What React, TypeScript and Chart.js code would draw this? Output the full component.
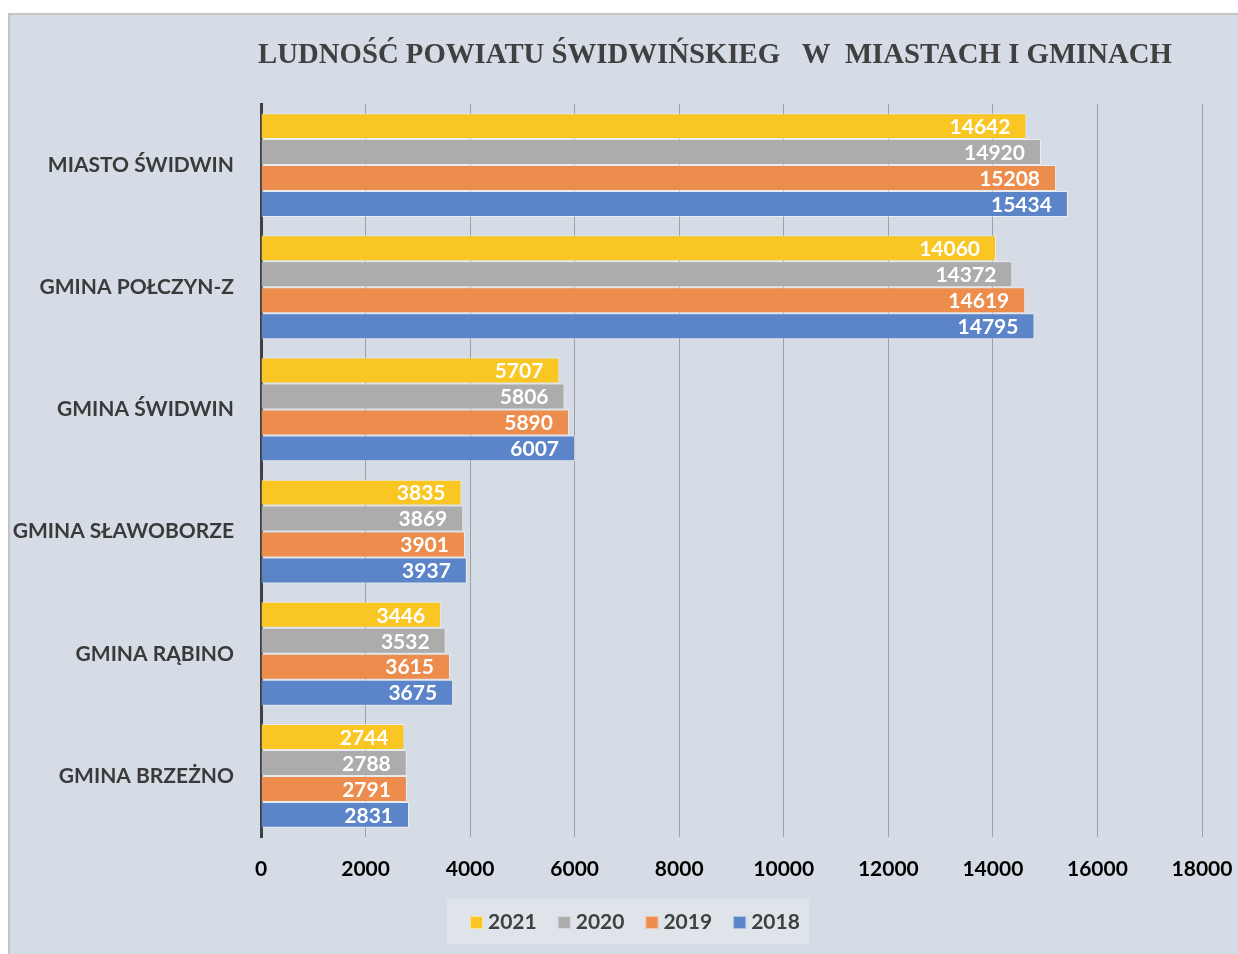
import React, { useEffect, useRef } from 'react';
import { Chart, registerables } from 'chart.js';
Chart.register(...registerables);

const categories = ['MIASTO ŚWIDWIN', 'GMINA POŁCZYN-Z', 'GMINA ŚWIDWIN', 'GMINA SŁAWOBORZE', 'GMINA RĄBINO', 'GMINA BRZEŻNO'];
const years = ['2021', '2020', '2019', '2018'];
const values2021 = [14642, 14060, 5707, 3835, 3446, 2744];
const values2020 = [14920, 14372, 5806, 3869, 3532, 2788];
const values2019 = [15208, 14619, 5890, 3901, 3615, 2791];
const values2018 = [15434, 14795, 6007, 3937, 3675, 2831];
const seriesValues = [values2021, values2020, values2019, values2018];
const colors = ['#f9c623', '#acacac', '#ec8c4d', '#5b84c9'];
const titleText = 'LUDNOŚĆ POWIATU ŚWIDWIŃSKIEG   W  MIASTACH I GMINACH';

const SANS = 'Lato, "Open Sans", sans-serif';

const titlePlugin = {
  id: 'customTitle',
  afterDraw(chart: any) {
    const ctx = chart.ctx;
    ctx.save();
    ctx.font = 'bold 30px "Liberation Serif"';
    ctx.fillStyle = '#404040';
    ctx.textAlign = 'left';
    ctx.textBaseline = 'alphabetic';
    const w = ctx.measureText(titleText).width;
    const sx = 914 / w;
    ctx.translate(258, 63);
    ctx.scale(sx, 1);
    ctx.fillText(titleText, 0, 0);
    ctx.restore();
  },
};

const valueLabelPlugin = {
  id: 'valueLabels',
  afterDatasetsDraw(chart: any) {
    const ctx = chart.ctx;
    ctx.save();
    ctx.font = `bold 21px ${SANS}`;
    ctx.fillStyle = '#ffffff';
    ctx.textAlign = 'right';
    ctx.textBaseline = 'middle';
    chart.data.datasets.forEach((ds: any, i: number) => {
      const meta = chart.getDatasetMeta(i);
      meta.data.forEach((el: any, j: number) => {
        ctx.fillText(String(ds.data[j]), el.x - 16, el.y + 1);
      });
    });
    ctx.restore();
  },
};

const legendPlugin = {
  id: 'customLegend',
  afterDraw(chart: any) {
    const ctx = chart.ctx;
    ctx.save();
    ctx.fillStyle = '#dfe3ea';
    ctx.fillRect(447, 899, 362, 45);
    ctx.font = `bold 21px ${SANS}`;
    ctx.textBaseline = 'middle';
    ctx.textAlign = 'left';
    let x = 470;
    chart.data.datasets.forEach((ds: any) => {
      ctx.fillStyle = ds.backgroundColor;
      ctx.fillRect(x, 916, 13, 13);
      ctx.strokeStyle = 'rgba(255,255,255,0.5)';
      ctx.lineWidth = 1;
      ctx.strokeRect(x + 0.5, 916.5, 12, 12);
      ctx.fillStyle = '#404040';
      ctx.fillText(ds.label, x + 18, 922);
      const tw = ctx.measureText(ds.label).width;
      x = x + 18 + tw + 21;
    });
    ctx.restore();
  },
};

export default function App() {
  const ref = useRef<HTMLCanvasElement | null>(null);
  useEffect(() => {
    if (!ref.current) return;
    const chart = new Chart(ref.current, {
      type: 'bar',
      data: {
        labels: categories,
        datasets: years.map((y, i) => ({
          label: y,
          data: seriesValues[i],
          backgroundColor: colors[i],
          borderColor: 'rgba(255,255,255,0.45)',
          borderWidth: 1,
          categoryPercentage: 0.85,
          barPercentage: 1.0,
        })),
      },
      options: {
        indexAxis: 'y',
        responsive: false,
        animation: false,
        layout: { padding: { left: 0, right: 36, top: 104, bottom: 0 } },
        plugins: {
          legend: { display: false },
          title: { display: false },
          tooltip: { enabled: false },
        },
        scales: {
          x: {
            min: 0,
            max: 18000,
            ticks: {
              stepSize: 2000,
              color: '#000000',
              font: { family: SANS, size: 21, weight: 'bold' },
              padding: 20,
              maxRotation: 0,
              callback: (v: any) => String(v),
            },
            grid: { color: '#a0a0a0', lineWidth: 1, drawTicks: false },
            border: { display: false },
            afterFit(scale: any) {
              scale.height = 954 - 837;
              scale.paddingLeft = 0;
              scale.paddingRight = 0;
            },
          },
          y: {
            ticks: {
              color: '#3a3a3a',
              font: { family: SANS, size: 21, weight: 'bold' },
              padding: 27,
            },
            grid: { display: false, drawTicks: false },
            border: { display: true, color: '#404040', width: 3 },
            afterFit(scale: any) {
              scale.width = 261;
              scale.paddingTop = 0;
              scale.paddingBottom = 0;
            },
          },
        },
      },
      plugins: [titlePlugin, valueLabelPlugin, legendPlugin],
    });
    return () => chart.destroy();
  }, []);
  return (
    <div style={{ position: 'fixed', left: 0, top: 0, width: 1238, height: 954, background: '#ffffff', overflow: 'hidden' }}>
      <div
        style={{
          position: 'absolute',
          left: 8,
          top: 13,
          width: 1240,
          height: 950,
          background: '#d6dce5',
          borderLeft: '2px solid #c4c4c4',
          borderTop: '2px solid #c4c4c4',
        }}
      />
      <canvas ref={ref} width={1238} height={954} style={{ position: 'absolute', left: 0, top: 0 }} />
    </div>
  );
}
